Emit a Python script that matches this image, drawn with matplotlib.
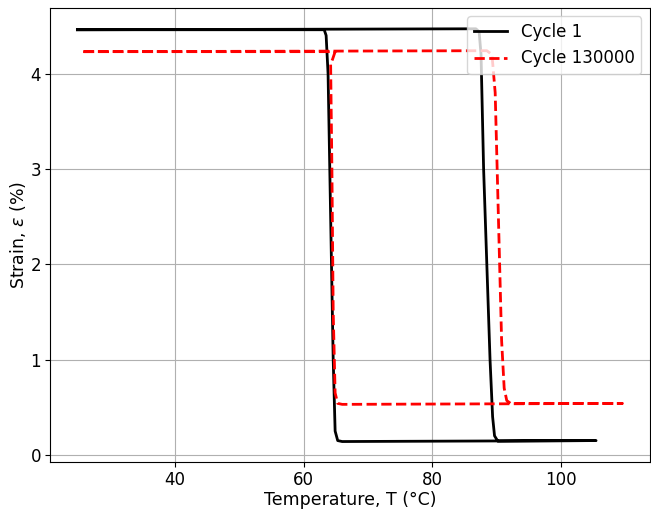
import matplotlib
matplotlib.use("Agg")
import matplotlib.pyplot as plt

# cycle 1: heating branch then cooling branch
t_cycle1 = [24.8, 60.0, 86.8, 87.3, 87.6, 88.0, 88.5, 89.0, 89.4, 89.7, 90.2, 105.5,
            66.0, 65.3, 64.9, 64.6, 64.2, 63.8, 63.5, 63.2, 40.0, 24.8]
e_cycle1 = [4.46, 4.465, 4.47, 4.44, 4.2, 3.0, 2.0, 1.0, 0.4, 0.2, 0.145, 0.15,
            0.14, 0.15, 0.25, 1.0, 2.5, 4.0, 4.40, 4.46, 4.46, 4.46]

# cycle 130000
t_cycle2 = [25.7, 60.0, 88.5, 89.3, 89.8, 90.3, 90.8, 91.2, 91.6, 92.2, 109.6,
            66.0, 65.3, 64.9, 64.6, 64.4, 64.2, 64.5, 64.9, 40.0, 25.7]
e_cycle2 = [4.23, 4.235, 4.24, 4.2, 3.8, 2.5, 1.2, 0.7, 0.57, 0.54, 0.54,
            0.53, 0.54, 0.65, 1.5, 3.0, 4.1, 4.15, 4.23, 4.23, 4.23]

fig, ax = plt.subplots(figsize=(6.51, 5.09), dpi=100)
ax.plot(t_cycle1, e_cycle1, color="black", linewidth=2, label="Cycle 1")
ax.plot(t_cycle2, e_cycle2, color="red", linestyle="--", linewidth=2, label="Cycle 130000")

ax.set_xlabel("Temperature, T (°C)", fontsize=12.5, labelpad=1)
ax.set_ylabel(r"Strain, $\varepsilon$ (%)", fontsize=12.5, labelpad=2)
ax.tick_params(labelsize=12, pad=3)
ax.grid(True)
ax.legend(loc="upper right", fontsize=12)

fig.subplots_adjust(left=0.077, right=0.998, top=0.984, bottom=0.092)
plt.savefig("out.png")
